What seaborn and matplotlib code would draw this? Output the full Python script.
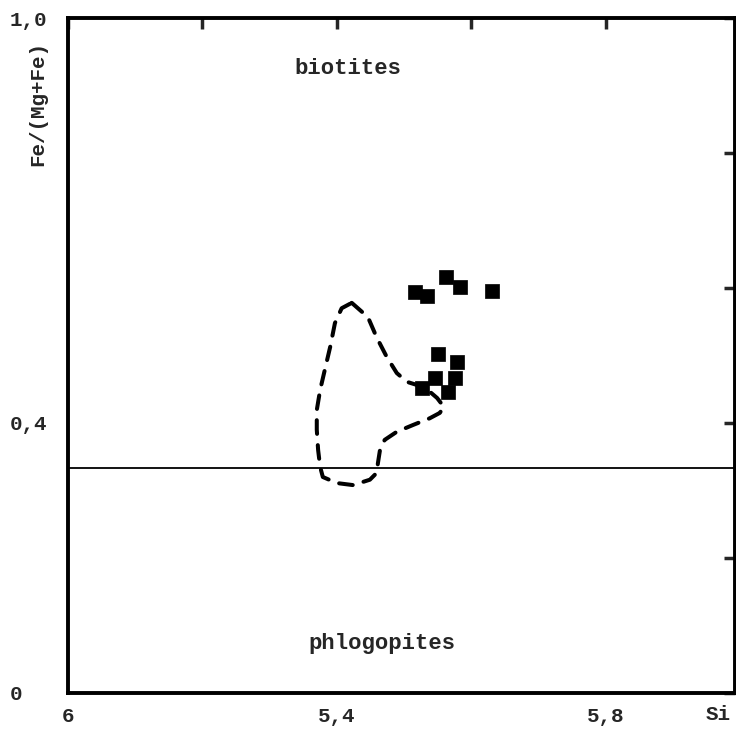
import matplotlib
matplotlib.use('Agg')
import matplotlib.pyplot as plt
import seaborn as sns
import pandas as pd

# biotite analyses (Si, Fe/(Mg+Fe))
si = [5.516, 5.534, 5.562, 5.583, 5.631,
      5.550, 5.578, 5.546, 5.575, 5.526, 5.565]
fe = [0.594, 0.588, 0.616, 0.601, 0.596,
      0.502, 0.490, 0.467, 0.467, 0.452, 0.446]

# dashed field outline
field_si = [5.422, 5.446, 5.459, 5.474, 5.489, 5.504, 5.520, 5.535, 5.549, 5.559,
            5.553, 5.538, 5.513, 5.489, 5.471, 5.464, 5.461, 5.459, 5.449, 5.424,
            5.400, 5.379, 5.375, 5.372, 5.370, 5.370, 5.375, 5.382, 5.390, 5.397,
            5.407, 5.422]
field_fe = [0.578, 0.557, 0.527, 0.498, 0.474, 0.461, 0.456, 0.449, 0.437, 0.424,
            0.415, 0.407, 0.397, 0.387, 0.375, 0.360, 0.341, 0.326, 0.316, 0.308,
            0.311, 0.320, 0.335, 0.360, 0.390, 0.419, 0.449, 0.479, 0.513, 0.548,
            0.570, 0.578]

boundary = 1 / 3

x_ticks = [5.0, 5.2, 5.4, 5.6, 5.8]
x_labels = ['6', '', '5,4', '', '5,8']
y_ticks = [0, 0.2, 0.4, 0.6, 0.8, 1.0]
y_labels = ['0', '', '0,4', '', '', '1,0']

sns.set_style('white')
plt.rcParams['font.family'] = ['Liberation Mono', 'DejaVu Sans Mono']

pts = pd.DataFrame({'si': si, 'fe': fe})
field = pd.DataFrame({'si': field_si, 'fe': field_fe})

fig = plt.figure(figsize=(7.36, 7.29), dpi=100)
ax = fig.add_axes([68 / 736, 36 / 729, 667 / 736, 675 / 729])

ax.axhline(boundary, color='black', lw=1.3)
sns.lineplot(data=field, x='si', y='fe', sort=False, estimator=None, ax=ax,
             color='black', lw=2.9, dashes=False, linestyle=(0, (3.4, 2.8)),
             dash_capstyle='round')
sns.scatterplot(data=pts, x='si', y='fe', ax=ax, marker='s', s=115,
                color='black', edgecolor='black', linewidth=0.5)

ax.set_xlim(5.0, 5.992)
ax.set_ylim(0, 1)
ax.set_xticks(x_ticks)
ax.set_xticklabels(x_labels)
ax.set_yticks(y_ticks)
ax.set_yticklabels(y_labels)
ax.set_xlabel('')
ax.set_ylabel('')
ax.tick_params(direction='in', length=8, width=2.5, top=True, right=True,
               labelsize=15)
ax.tick_params(axis='x', pad=10)
ax.tick_params(axis='y', pad=42)
for lab in ax.get_xticklabels() + ax.get_yticklabels():
    lab.set_fontweight('bold')
for lab in ax.get_yticklabels():
    lab.set_horizontalalignment('left')
for sp in ax.spines.values():
    sp.set_linewidth(2.8)
    sp.set_color('black')

ax.text(5.416, 0.925, 'biotites', fontsize=16, fontweight='bold', ha='center', va='center')
ax.text(5.467, 0.074, 'phlogopites', fontsize=16, fontweight='bold', ha='center', va='center')
fig.text(38 / 736, 1 - 103 / 729, 'Fe/(Mg+Fe)', rotation=90, fontsize=15,
         fontweight='bold', ha='center', va='center')
fig.text(718 / 736, 1 - 715 / 729, 'Si', fontsize=15, fontweight='bold',
         ha='center', va='center')

fig.savefig('out.png', dpi=100)
